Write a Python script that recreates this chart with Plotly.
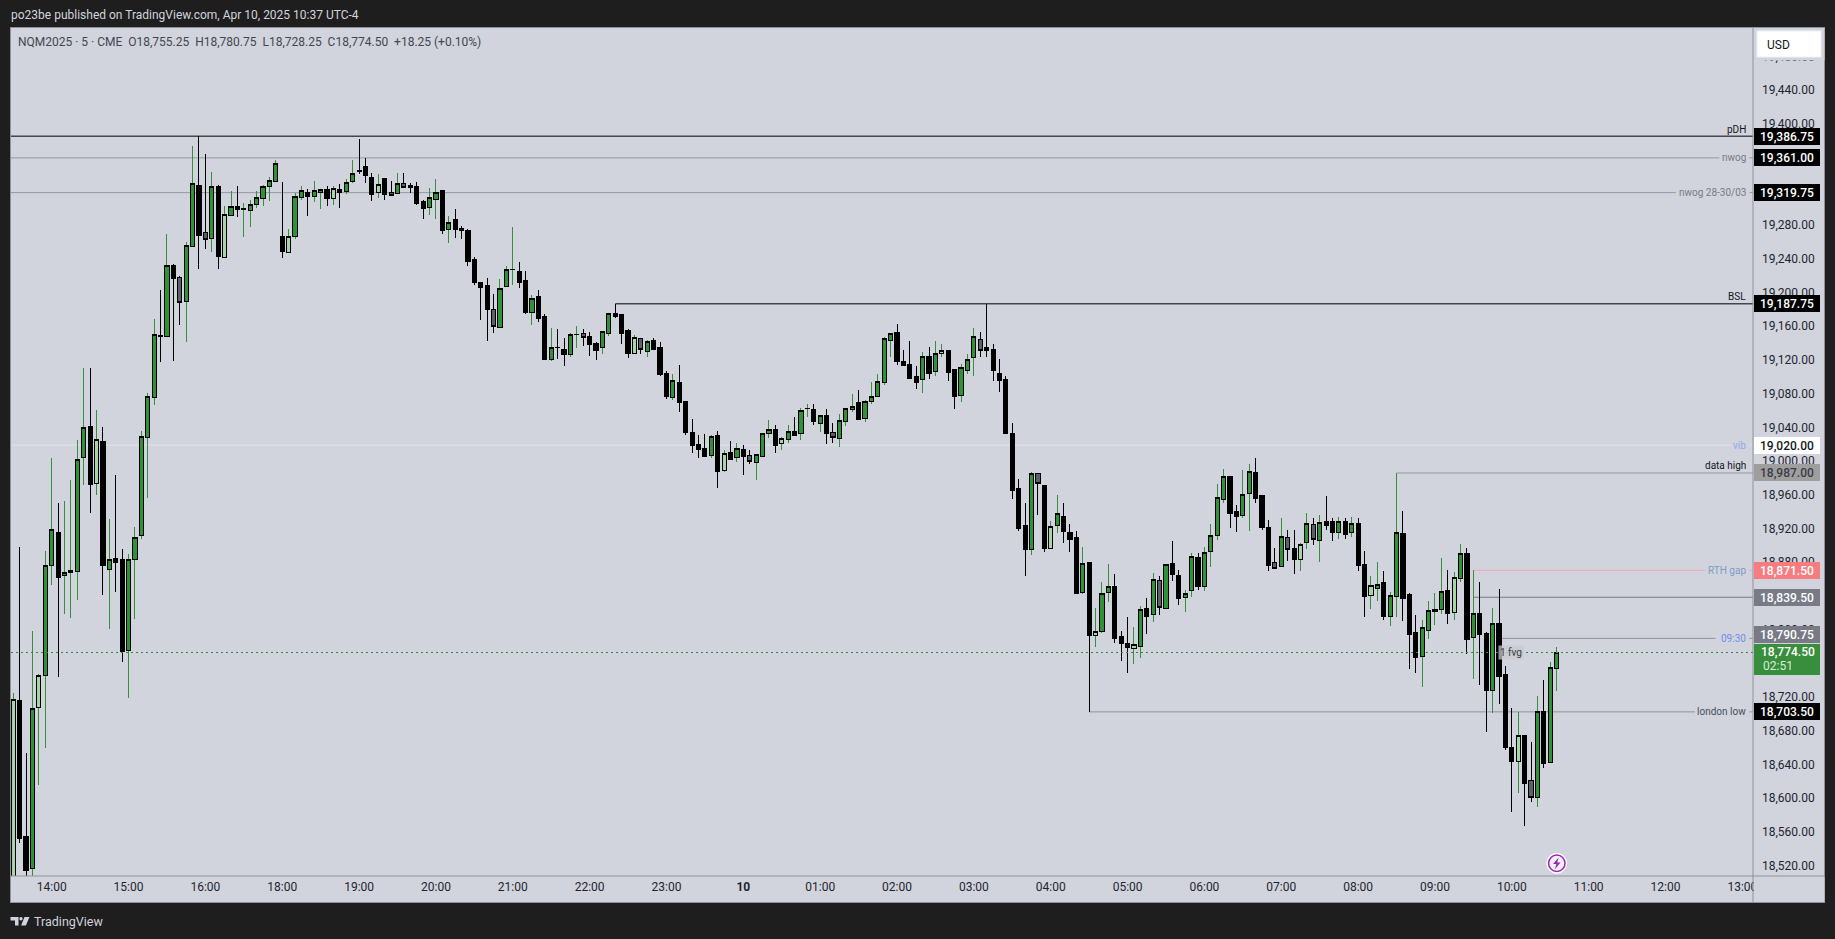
import plotly.graph_objects as go

FIRST_BAR = -6
KIND = list(
    "LDDULUUDUU" "UUDLDUDDUU" "UUUDUDGUUD" "GUDLUDUUUU" "UUDLUUDUUD" "LDUUDDDLDG"
    "UGDDDUUDUD" "DDDDDGUUUD" "DUDDUDDUUG" "DDUUDDDLGU" "DDDUDDDDDU" "DLDUDGUUUD"
    "LUDUUDUDGU" "UUDUUUUUDD" "DDUDULDDUU" "UGDDDDDDDU" "GDLUDDDUDL" "UUDDDLUDUG"
    "UDDUUDUUUU" "DDUUDDDGUG" "DLUGUDDUDU" "DDLUDUUDDD" "UUUUDLUDUD" "DUDDDLDGUD" "UU"
)
HIGH = [
    18725.8,18899,18654.6,18799.8,18748.8,18894.7,19004.3,18951.3,18953.7,18978.6,
    19026.1,19111.1,19111.1,19061.7,19041.5,18931.9,18984.5,18896.7,18890.8,18922.4,
    19036.4,19081.5,19169.8,19204.6,19271.1,19235.5,19221.2,19261.6,19375.5,19387.4,
    19366,19344.7,19328.8,19304.3,19322.1,19328,19307.5,19311.4,19322.1,19328.8,
    19338.7,19358.9,19332.8,19277,19319.3,19328,19324.5,19334,19324.1,19328,
    19328,19330.4,19336,19358.9,19383.8,19361.3,19343.5,19342.3,19336.3,19334,
    19343.5,19343.5,19331.6,19332.8,19311.4,19325.7,19336.3,19323.3,19292.4,19300.7,
    19280.6,19277,19243.8,19212.9,19218.9,19199.9,19217.7,19233.1,19279.4,19237.8,
    19227.2,19198.7,19204.6,19176.1,19159.5,19158.3,19147.6,19153.6,19161.9,19158.3,
    19154.8,19142.9,19154.8,19177.3,19187.75,19175,19157.3,19151.3,19147.4,19145,
    19147.4,19143,19108.6,19103.9,19115.7,19073,19051.6,19032.6,19033.8,19031.5,
    19037.4,19014.8,19025.5,19023.1,19020.8,19014.8,19010.1,19033.8,19049.3,19044.5,
    19030.3,19044.5,19054,19064.7,19069.4,19069.4,19055.2,19063.5,19046.9,19057.6,
    19064.7,19081.3,19086,19074.2,19095.5,19105,19148.9,19153.7,19164.4,19133.5,
    19144.2,19114.5,19131.1,19137.1,19144.2,19139.5,19133.5,19109.8,19116.9,19128.8,
    19159.6,19154.9,19187.75,19139.5,19121.7,19102.7,19046.9,18980.4,18951.9,18987.6,
    18986,18972.1,18930.6,18961.4,18950.8,18927,18918.7,18899.7,18881.5,18827.3,
    18858.2,18879.5,18867.7,18800,18815.5,18804.8,18829.7,18839.2,18868.9,18865.3,
    18878.4,18905.7,18872.4,18848.7,18892.2,18892.2,18899.7,18927,18974.5,18992.3,
    18982.8,18949.6,18991.1,18998.2,19004.2,18960.2,18931.8,18898.5,18933,18919.9,
    18919.9,18904.5,18940.1,18933,18937.7,18959.1,18933,18935.3,18933,18935.3,
    18933,18895,18865.3,18881.9,18871.2,18846.3,18987,18941.3,18845.1,18819,
    18813.1,18835.6,18845.1,18886.7,18872.4,18870,18903.3,18898.5,18871.5,18858,
    18798.6,18827.1,18849.7,18758.3,18708.4,18703.7,18675.2,18668.1,18722.7,18741.7,
    18763,18780.75,
]
BODY_TOP = [
    18718.7,18716.7,18555.3,18708,18746.4,18877.7,18920.1,18916.9,18869,18871.4,
    19003.1,19041.1,19042.3,19026.9,19024.5,18884.5,18885.6,18884.9,18884.5,18910.6,
    19030.4,19077.9,19150.8,19150,19233.1,19233.1,19218.5,19256.4,19330,19328,
    19271.9,19326.5,19326.9,19293.2,19302.7,19302.7,19300.5,19305.1,19313.4,19326.5,
    19333.6,19353.8,19267.1,19267.1,19314.6,19321.7,19319.3,19321.7,19322.9,19322.9,
    19324.1,19322.9,19331.2,19343,19345.5,19350.6,19337.5,19329.2,19336.3,19319.3,
    19330.4,19330.4,19328,19326.9,19309,19313.4,19319.3,19322.1,19284.1,19287.7,
    19277,19274.6,19240.2,19212.9,19209.4,19180.9,19205.8,19228.3,19228.2,19226,
    19215.3,19193.9,19196.3,19172.6,19135.8,19135.6,19133.4,19151.2,19151,19152.4,
    19148.8,19140.5,19154.8,19176.1,19176.1,19175,19156.1,19147.4,19146.2,19142.6,
    19143.8,19135.5,19105,19096.3,19094.4,19071.8,19035,19020.8,19016,19030.3,
    19031.5,19010.1,19011.3,19016,19014.8,19007.7,19008.9,19033.8,19038.6,19038.6,
    19027.9,19036.2,19036.2,19061.1,19063.3,19062.3,19055.2,19055.2,19035,19049.3,
    19063.5,19065.9,19070.6,19071.8,19077.7,19095.5,19146.6,19152.5,19153.7,19119.3,
    19115.7,19101.5,19125.2,19125.2,19128.8,19132.3,19132.3,19109.8,19112.2,19121.7,
    19148.9,19145.4,19135.9,19133.5,19105,19097.9,19033.8,18968.6,18924.6,18986,
    18986,18972.1,18923.1,18938.5,18934.9,18916.3,18910.4,18879.2,18880.3,18799.2,
    18843.5,18851.8,18851.8,18792.9,18784.6,18783.8,18824.6,18826.1,18860.2,18859,
    18878,18879.2,18865.3,18843.5,18887.5,18886.3,18892.2,18912.4,18957.5,18982.4,
    18982.8,18940.9,18961,18988.3,18987.6,18960.2,18922.3,18880.3,18911.2,18910,
    18897.3,18901.7,18926.6,18925.4,18927.8,18929,18929,18929,18929,18926.6,
    18927,18878.4,18853,18854.2,18857,18841.2,18915.9,18915.1,18842.8,18797.3,
    18803.2,18823.4,18824.6,18845.9,18847.1,18862.5,18891,18891,18819.8,18820,
    18796.3,18808.9,18808.1,18747.6,18661,18675.2,18675.2,18621.8,18704.5,18704.5,
    18756.7,18774.5,
]
BODY_BOTTOM = [
    18490,18553.3,18515.4,18517.7,18708.8,18746.8,18877,18862.7,18865,18868.6,
    18869.8,19005.1,18973.1,18974.7,18877,18872.6,18880.5,18774.9,18776.4,18884.1,
    18912.5,19028.9,19076.8,19149.5,19148.8,19218,19189.6,19190.8,19256,19268.7,
    19264.7,19265.5,19244.2,19243,19292.8,19300,19300.1,19298.8,19305.9,19313,
    19327.2,19333.2,19250.1,19248.9,19267.9,19314.2,19315.4,19315.4,19320.1,19313,
    19313,19319.7,19321.3,19332.4,19345.3,19339.9,19317.4,19319.7,19317.4,19316.2,
    19318.5,19325.7,19325.7,19306.7,19300.7,19301.9,19311.4,19274.6,19275.8,19275.8,
    19274.6,19237.8,19212.9,19207,19180.9,19160.7,19159.5,19208.2,19228,19212.9,
    19177.3,19177.3,19170.2,19121.5,19121.5,19135.4,19127.5,19127.5,19150.8,19147.6,
    19139.3,19132.2,19135.8,19152.4,19172.6,19152.9,19129.2,19129.2,19133.9,19131.5,
    19133.9,19103.9,19077.7,19076.6,19070.6,19035,19019.6,19014.8,19006.5,19007.7,
    18988.7,18989.9,19003,19005.3,19006.5,19000.6,18999.4,19006.5,19033.8,19019.6,
    19022,19026.7,19031.5,19033.8,19063.1,19048.1,19045.7,19033.8,19029.1,19027.9,
    19048.1,19062.3,19050.4,19051.6,19071.8,19077.7,19094.4,19144.2,19119.3,19114.5,
    19099.1,19094.4,19097.9,19105,19107.4,19128.8,19106.2,19077.7,19078.9,19108.6,
    19124,19132.3,19132.3,19108.6,19096.7,19033.8,18966.2,18921.1,18896.2,18895.8,
    18974.1,18897.4,18897.7,18924.3,18917.5,18908,18843.9,18845.5,18794.1,18794.5,
    18799.2,18845.5,18790.5,18784.6,18779.9,18779.1,18781.4,18816.6,18818.6,18826.9,
    18825.7,18866.5,18838,18838.8,18847.1,18852.3,18851.8,18893.4,18912.4,18955.1,
    18938.9,18935.3,18936.1,18962.2,18956.7,18922.3,18877.2,18874,18875.6,18896.6,
    18884.3,18884.7,18904.1,18907.6,18906.5,18924.6,18916.3,18915.9,18914,18916.3,
    18877.2,18840.4,18842,18850.3,18816.6,18817,18840,18838,18795.3,18768,
    18769.6,18800.4,18822.6,18824.6,18820.2,18821,18861.4,18789.4,18791.3,18795,
    18729,18729,18745.2,18661,18644.4,18644.4,18618.2,18601.6,18601.6,18642,
    18643.6,18755.25,
]
LOW = [
    18470,18547.8,18500,18500,18616.2,18660.1,18853.6,18744.4,18819.2,18814.4,
    18836.2,18972.7,18939.8,18961.2,18842.1,18802.2,18846.1,18763,18719.5,18814.1,
    18908.6,18957.6,19068.1,19119.2,19148,19120.3,19163.1,19142.9,19256,19229.5,
    19253.3,19249.7,19229.5,19243,19292.8,19291.3,19267.5,19279.4,19301.9,19304.3,
    19310.2,19332,19242.6,19248.9,19265.1,19310.6,19292.4,19309,19300.7,19304.3,
    19305.5,19301.9,19317.8,19330.8,19342.3,19331.6,19310.2,19313.8,19311.4,19316.2,
    19318.5,19325.7,19319.7,19305.5,19288.9,19293.6,19288.9,19271.1,19260.4,19266.3,
    19265.1,19233.1,19210.5,19169,19144.1,19153.6,19159.5,19208.2,19210.5,19207,
    19176.1,19163.1,19166.6,19121.5,19120.3,19122.7,19114.4,19125.1,19135.8,19138.2,
    19126.3,19121.5,19128.7,19150,19171.4,19140.6,19124,19128,19128.8,19125.2,
    19133.9,19102.7,19075.4,19074.2,19058.8,19032.6,19011.3,19004.2,19006.5,19004.2,
    18969.7,18988.7,19003,19000.6,18985.2,18998.2,18979.2,19006.5,19029.1,19011.3,
    19013.7,19023.1,19031.5,19026.7,19054,19044.5,19036.2,19022,19023.1,19018.4,
    19043.3,19059.9,19049.3,19048.1,19069.4,19077.7,19092,19125.2,19115.7,19113.4,
    19099.1,19086.1,19082.5,19099.1,19102.7,19125.2,19096.7,19063.5,19071.8,19105,
    19102.7,19125.2,19125.2,19096.7,19083.7,19033.8,18956.7,18918.7,18865.3,18890.2,
    18937.7,18893.8,18896.2,18915.2,18904.5,18893.8,18843.9,18843.9,18703.5,18779.9,
    18797.6,18834.4,18785.8,18764.4,18750.2,18760.9,18768,18796.5,18810.7,18819,
    18825.7,18859.4,18830.9,18822.6,18840.4,18848.7,18847.5,18876,18908,18950.8,
    18922.3,18917.5,18933,18918.7,18950.8,18919.9,18871.2,18874,18875.6,18883.1,
    18867.7,18870.1,18896.2,18902.1,18881.9,18919.9,18905.7,18909.2,18909.2,18911.6,
    18870.1,18816.6,18826.1,18835.6,18813.1,18806,18816.6,18811.9,18754.9,18750.2,
    18733.6,18789.4,18807.1,18820.2,18808.3,18813.1,18858.2,18772.7,18743,18735.7,
    18680,18702.5,18713.2,18658.6,18585,18607.6,18568.4,18596.9,18591,18637.2,
    18643.6,18728.25,
]

TIME_TICK_BARS = [0,12,24,36,48,60,72,84,96,108,120,132,144,156,168,180,192,204,216,228,240,252,264]
TIME_TICK_TEXT = ["14:00","15:00","16:00","18:00","19:00","20:00","21:00","22:00","23:00","<b>10</b>",
                  "01:00","02:00","03:00","04:00","05:00","06:00","07:00","08:00","09:00","10:00",
                  "11:00","12:00","13:00"]
PRICE_TICKS = [18520,18560,18600,18640,18680,18720,18760,18800,18840,18880,18920,18960,19000,
               19040,19080,19120,19160,19200,19240,19280,19320,19360,19400,19440,19480]

LEVEL_NAME  = ["pDH","nwog","nwog 28-30/03","BSL","vib","data high","RTH gap","","09:30","london low"]
LEVEL_PRICE = [19386.75,19361.00,19319.75,19187.75,19020.00,18987.00,18871.50,18839.50,18790.75,18703.50]
LEVEL_START = [-7,-7,-7,88,-7,210,222,222,226,162]
LEVEL_END   = [266,260.4,253.6,266,262.3,266,258.2,266,259.8,256.6]
LEVEL_COLOR = ["#000000","#9598a1","#9598a1","#000000","#dadde5","#9598a1","#f4a6ab","#787b86","#8f929c","#8f929c"]
LEVEL_WIDTH = [1,1,1,1,1.5,1,1,1,1,1]
LEVEL_TEXT_COLOR = ["#131722","#787b86","#787b86","#131722","#90a8e8","#131722","#7c9cc4","#787b86","#6d8ff0","#4a4e5a"]
LEVEL_TEXT_ABOVE = [True,False,False,True,False,True,False,False,False,False]

LABEL_PRICE = [19386.75,19361.00,19319.75,19187.75,19020.00,18987.00,18871.50,18839.50,18790.75,18703.50]
LABEL_FILL  = ["#000000","#000000","#000000","#000000","#ffffff","#9e9e9e","#f77c80","#787b86","#787b86","#000000"]
LABEL_TEXT_COLOR = ["#fff","#fff","#fff","#fff","#131722","#3a3d45","#fff","#fff","#fff","#fff"]
LAST_PRICE = 18774.50
COUNTDOWN = "02:51"

HEADER = "po23be published on TradingView.com, Apr 10, 2025 10:37 UTC-4"
LEGEND_TEXT = "NQM2025 · 5 · CME  O18,755.25  H18,780.75  L18,728.25  C18,774.50  +18.25 (+0.10%)"

BODY_FILL = {"U": "#2f9138", "D": "#000000", "L": "#a5d6a7", "G": "#5d606b"}
BG, PANEL, EDGE = "#1e1e1e", "#d1d4dc", "#8f929c"
FONT = "Roboto"

L, R, T, B = 10.5, 1753.0, 27.0, 876.0
XLEFT, XRIGHT = -6.353, 265.66
YLOW, YHIGH = 18508.7, 19516.3


def px(x):
    return (x - L) / (R - L)


def py(y):
    return (B - y) / (B - T)


bars = [FIRST_BAR + i for i in range(len(KIND))]
up = [k in "UL" for k in KIND]
opens = [b if u else t for t, b, u in zip(BODY_TOP, BODY_BOTTOM, up)]
closes = [t if u else b for t, b, u in zip(BODY_TOP, BODY_BOTTOM, up)]

fig = go.Figure()
# wick layer
fig.add_trace(go.Candlestick(
    x=bars, open=opens, high=HIGH, low=LOW, close=closes, whiskerwidth=0, hoverinfo="skip",
    increasing=dict(line=dict(color="#388e3c", width=1), fillcolor="rgba(0,0,0,0)"),
    decreasing=dict(line=dict(color="#000000", width=1), fillcolor="rgba(0,0,0,0)"),
    showlegend=False))
# body layer, one trace per candle colour
for kind, fill in BODY_FILL.items():
    idx = [i for i, k in enumerate(KIND) if k == kind]
    fig.add_trace(go.Candlestick(
        x=[bars[i] for i in idx],
        open=[opens[i] for i in idx], close=[closes[i] for i in idx],
        high=[BODY_TOP[i] for i in idx], low=[BODY_BOTTOM[i] for i in idx],
        whiskerwidth=0, hoverinfo="skip", showlegend=False,
        increasing=dict(line=dict(color="#000000", width=1), fillcolor=fill),
        decreasing=dict(line=dict(color="#000000", width=1), fillcolor=fill)))
# last-price dotted line
fig.add_trace(go.Scatter(x=[XLEFT, XRIGHT], y=[LAST_PRICE, LAST_PRICE], mode="lines", hoverinfo="skip",
                         line=dict(color="#2f8a35", width=1, dash="2px,3px"), showlegend=False))

shapes = [
    dict(type="rect", xref="paper", yref="paper", x0=px(10), x1=px(1825), y0=py(27), y1=py(902),
         fillcolor=PANEL, line=dict(color=EDGE, width=1), layer="below"),
]
for price, x0, x1, col, w in zip(LEVEL_PRICE, LEVEL_START, LEVEL_END, LEVEL_COLOR, LEVEL_WIDTH):
    shapes.append(dict(type="line", xref="x", yref="y", x0=x0, x1=x1, y0=price, y1=price,
                       line=dict(color=col, width=w), layer="below"))
    if x1 < 265:
        shapes.append(dict(type="line", xref="x", yref="y", x0=265.1, x1=266, y0=price, y1=price,
                           line=dict(color=col, width=w), layer="below"))
shapes += [
    dict(type="rect", xref="paper", yref="paper", x0=px(1754), x1=px(1824.5), y0=py(877), y1=py(901.5),
         fillcolor=PANEL, line=dict(width=0)),
    dict(type="rect", xref="paper", yref="paper", x0=px(1754), x1=px(1824.5), y0=py(28), y1=py(60.5),
         fillcolor=PANEL, line=dict(width=0)),
    dict(type="rect", xref="paper", yref="paper", x0=px(1757), x1=px(1821), y0=py(31), y1=py(57),
         fillcolor="#ffffff", line=dict(color="#eef0f5", width=1)),
    dict(type="line", xref="paper", yref="paper", x0=px(1753), x1=px(1753), y0=py(27), y1=py(902),
         line=dict(color=EDGE, width=1)),
    dict(type="line", xref="paper", yref="paper", x0=px(10), x1=px(1825), y0=py(876), y1=py(876),
         line=dict(color=EDGE, width=1)),
    dict(type="rect", xref="paper", yref="paper", x0=px(1754), x1=px(1820), y0=py(644), y1=py(675),
         fillcolor="#388e3c", line=dict(width=0)),
    # flash icon
    dict(type="circle", xref="paper", yref="paper", x0=px(1546.7), x1=px(1566.7), y0=py(853.3), y1=py(873.3),
         fillcolor="#ffffff", line=dict(color="#ffffff", width=1)),
    dict(type="circle", xref="paper", yref="paper", x0=px(1548.5), x1=px(1565), y0=py(855), y1=py(871.5),
         fillcolor="#f3f1f7", line=dict(color="#9c27b0", width=1.5)),
]
def poly(points):
    return "M " + " L ".join(f"{px(a):.6f} {py(b):.6f}" for a, b in points) + " Z"
shapes.append(dict(type="path", xref="paper", yref="paper", line=dict(width=0), fillcolor="#9c27b0",
                   path=poly([(1558.5,857.5),(1553,864),(1556.3,864),(1554.8,869.3),(1560.5,862.5),(1557.2,862.5)])))
# footer logo
shapes.append(dict(type="path", xref="paper", yref="paper", line=dict(width=0), fillcolor="#d1d4dc",
                   path=poly([(10,917),(18,917),(18,925.5),(14.5,925.5),(14.5,920.5),(10,920.5)])))
shapes.append(dict(type="circle", xref="paper", yref="paper", x0=px(18.8), x1=px(22.2), y0=py(917), y1=py(920.4),
                   fillcolor="#d1d4dc", line=dict(width=0)))
shapes.append(dict(type="path", xref="paper", yref="paper", line=dict(width=0), fillcolor="#d1d4dc",
                   path=poly([(24,917),(29,917),(25.4,925.5),(20.6,925.5)])))

ann = []
def text(x, y, s, color, size=12, anchor="left", **kw):
    ann.append(dict(xref="paper", yref="paper", x=px(x), y=py(y), text=s, showarrow=False, xanchor=anchor,
                    yanchor="middle", font=dict(family=FONT, size=size, color=color), borderpad=0, **kw))

text(9.3, 15, HEADER, "#d1d4dc", 12)
text(17, 42, LEGEND_TEXT.replace("  ", "&nbsp;&nbsp;"), "#434651", 12)
text(32.5, 921.7, "TradingView", "#d1d4dc", 12.5)
text(1766, 44.5, "USD", "#131722", 12)

for name, price, col, above in zip(LEVEL_NAME, LEVEL_PRICE, LEVEL_TEXT_COLOR, LEVEL_TEXT_ABOVE):
    if name:
        ann.append(dict(xref="paper", yref="y", x=px(1747), y=price, text=name, showarrow=False, xanchor="right",
                        yanchor="middle", yshift=7 if above else 0, borderpad=0,
                        font=dict(family=FONT, size=10, color=col)))
ann.append(dict(xref="paper", yref="y", x=px(1497.5), y=LAST_PRICE, text="1 fvg", showarrow=False, xanchor="left",
                yanchor="middle", borderpad=1, bgcolor="rgba(200,202,210,0.75)",
                font=dict(family=FONT, size=10, color="#3a3d45")))

for price, fill, col in zip(LABEL_PRICE, LABEL_FILL, LABEL_TEXT_COLOR):
    ann.append(dict(xref="paper", yref="y", x=px(1754), y=price,
                    text=f"{price:,.2f}", showarrow=False, xanchor="left", yanchor="middle",
                    yshift=4 if price == 18790.75 else 0,
                    width=66, height=17, bgcolor=fill, borderpad=0, borderwidth=0,
                    font=dict(family=FONT, size=12, color=col, weight=500)))
ann.append(dict(xref="paper", yref="y", x=px(1754), y=LAST_PRICE, text=f"{LAST_PRICE:,.2f}", showarrow=False,
                xanchor="left", yanchor="middle", width=66, height=17, borderpad=0, yshift=1,
                font=dict(family=FONT, size=12, color="#ffffff", weight=500)))
text(1762, 666, COUNTDOWN, "#d7ecd8", 12)

fig.update_layout(
    width=1835, height=939, autosize=False,
    margin=dict(l=L, r=1835 - R, t=T, b=939 - B, pad=0),
    paper_bgcolor=BG, plot_bgcolor=PANEL, boxgap=0.35, boxgroupgap=0, boxmode="overlay", showlegend=False,
    xaxis=dict(range=[XLEFT, XRIGHT], tickmode="array", tickvals=TIME_TICK_BARS, ticktext=TIME_TICK_TEXT,
               showgrid=False, zeroline=False, showline=False, ticks="", rangeslider=dict(visible=False),
               tickfont=dict(family=FONT, size=12, color="#1f2430"), tickangle=0, ticklabelstandoff=2),
    yaxis=dict(range=[YLOW, YHIGH], side="right", tickmode="array", tickvals=PRICE_TICKS,
               ticktext=[f"{v:,.2f}" for v in PRICE_TICKS], showgrid=False, zeroline=False, showline=False,
               ticks="", tickfont=dict(family=FONT, size=12, color="#1f2430"), ticklabelstandoff=8,
               ticklabelshift=-1),
    shapes=shapes, annotations=ann,
)
fig.write_html("out.html", config={"displayModeBar": False},
               post_script="document.body.style.margin='0';document.body.style.overflow='hidden';"
                           "document.body.style.background='#1e1e1e';"
                           "document.head.insertAdjacentHTML('beforeend','<style>.boxlayer path,.scatterlayer path,"
                           ".layer-below .shapelayer path{shape-rendering:crispEdges}</style>');")
